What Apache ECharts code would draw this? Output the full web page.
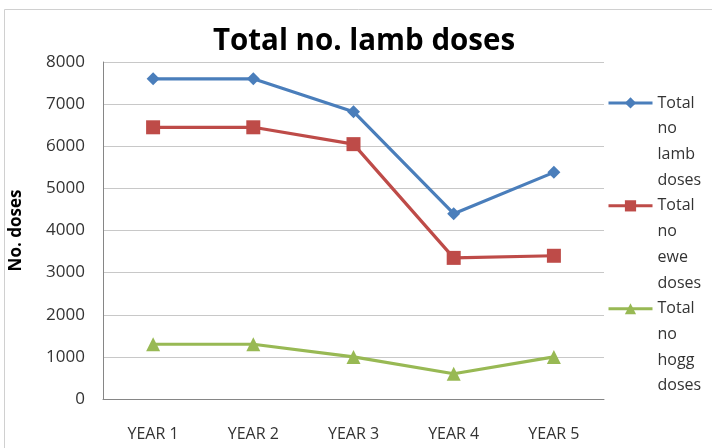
<!DOCTYPE html>
<html>
<head>
<meta charset="utf-8">
<script src="https://cdn.jsdelivr.net/npm/echarts@6/dist/echarts.min.js"></script>
<style>
html,body{margin:0;padding:0;background:#fff;}
#c{width:712px;height:448px;}
</style>
</head>
<body>
<div id="c"></div>
<script>
const categories = ['YEAR 1', 'YEAR 2', 'YEAR 3', 'YEAR 4', 'YEAR 5'];
const lambDoses = [7600, 7600, 6820, 4400, 5380];
const eweDoses = [6450, 6450, 6050, 3350, 3400];
const hoggDoses = [1300, 1300, 1000, 600, 1000];
const seriesNames = ['Total no lamb doses', 'Total no ewe doses', 'Total no hogg doses'];
const yTicks = [0, 1000, 2000, 3000, 4000, 5000, 6000, 7000, 8000];

const FONT = 'Open Sans';
const chart = echarts.init(document.getElementById('c'), null, {renderer: 'canvas'});
const colors = ['#4A7EBB', '#BE4B48', '#98B954'];
const symbols = ['diamond', 'rect', 'triangle'];
const symbolSizes = [13, 14, 14];
const data = [lambDoses, eweDoses, hoggDoses];

chart.setOption({
  animation: false,
  backgroundColor: '#fff',
  title: {
    text: 'Total no. lamb doses',
    left: 359, top: 22, textAlign: 'center',
    textStyle: {fontFamily: FONT, fontWeight: 'bold', fontSize: 29.5, color: '#000'}
  },
  graphic: [{
    type: 'rect', shape: {x: 4.5, y: 9.5, width: 800, height: 600},
    style: {fill: 'none', stroke: '#d0d0d0', lineWidth: 1}, silent: true
  }],
  legend: {
    orient: 'vertical', left: 607, top: 13, padding: 0,
    itemWidth: 44, itemHeight: 14, itemGap: -77,
    data: seriesNames,
    formatter: n => '\n\n\n' + n.split(' ').join('\n'),
    lineStyle: {width: 3},
    textStyle: {fontFamily: FONT, fontSize: 16, color: '#333', lineHeight: 25.7}
  },
  grid: {left: 98, right: 108, top: 62, bottom: 49},
  xAxis: {
    type: 'category', data: categories, boundaryGap: true,
    axisLine: {lineStyle: {color: '#868686', width: 1}},
    axisTick: {show: false},
    axisLabel: {fontFamily: FONT, fontSize: 16, color: '#333', margin: 27}
  },
  yAxis: {
    type: 'value', min: yTicks[0], max: yTicks[yTicks.length - 1], interval: 1000,
    name: 'No. doses', nameLocation: 'middle', nameGap: 78,
    nameTextStyle: {fontFamily: FONT, fontSize: 17, fontWeight: 'bold', color: '#000'},
    axisLine: {show: true, lineStyle: {color: '#868686'}},
    axisTick: {show: false},
    splitLine: {lineStyle: {color: '#c8c8c8', width: 1}},
    axisLabel: {fontFamily: FONT, fontSize: 17, color: '#333', margin: 18, formatter: v => String(v)}
  },
  series: seriesNames.map((n, i) => ({
    name: n, type: 'line', data: data[i],
    symbol: symbols[i], symbolSize: symbolSizes[i],
    lineStyle: {color: colors[i], width: 3.2},
    itemStyle: {color: colors[i]}
  }))
});
</script>
</body>
</html>
